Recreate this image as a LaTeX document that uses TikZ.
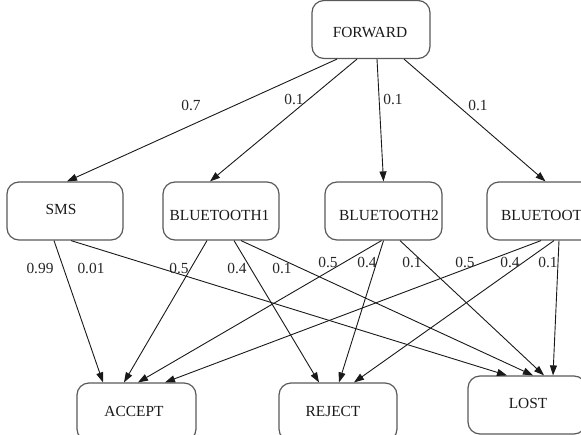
\documentclass[tikz,border=0pt]{standalone}
\usepackage{fontspec}
\setmainfont{Liberation Serif}
\usetikzlibrary{arrows.meta}
\begin{document}
\begin{tikzpicture}[x=1pt,y=-1pt,
  box/.style={draw=black!65,line width=1.2pt,rounded corners=12pt,minimum width=117pt,minimum height=58pt,inner sep=0pt},
  txt/.style={font=\fontsize{15.4}{18}\selectfont,inner sep=0pt,text=black!90},
  edge/.style={draw=black!90,line width=0.9pt,-{Triangle[length=10pt,width=7pt]}},
  lbl/.style={font=\fontsize{15.4}{18}\selectfont,inner sep=0pt,text=black!85}]
\useasboundingbox (0,0) rectangle (581,434);
\clip (0,0) rectangle (581,434);
% boxes
\node[box,minimum width=118pt] (forward) at (371,29.5) {};
\node[box,minimum width=116pt] (sms) at (65,211) {};
\node[box,minimum width=116pt] (bt1) at (221,211) {};
\node[box] (bt2) at (383.5,211) {};
\node[box] (bt3) at (545.5,211) {};
\node[box,minimum width=119pt] (accept) at (136.5,412) {};
\node[box,minimum width=118pt] (reject) at (338,412) {};
\node[box,minimum width=118pt] (lost) at (527,405) {};
% box texts
\node[txt] (tforward) at (370,33) {FORWARD};
\node[txt] (tsms) at (61,209) {SMS};
\node[txt] (tbt1) at (219.5,215) {BLUETOOTH1};
\node[txt] (tbt2) at (389,215) {BLUETOOTH2};
\node[txt] (tbt3) at (551,215) {BLUETOOTH3};
\node[txt] (taccept) at (134,411) {ACCEPT};
\node[txt] (treject) at (333,411) {REJECT};
\node[txt] (tlost) at (528,403) {LOST};
% edges from forward
\draw[edge] ([xshift=-34pt]forward.south) -- ([xshift=2pt]sms.north);
\draw[edge] ([xshift=-14pt]forward.south) -- ([xshift=-11pt]bt1.north);
\draw[edge] ([xshift=6pt]forward.south) -- ([xshift=0pt]bt2.north);
\draw[edge] ([xshift=33pt]forward.south) -- ([xshift=0pt]bt3.north);
% edges from sms
\draw[edge] ([xshift=-11pt]sms.south) -- ([xshift=-33.5pt]accept.north);
\draw[edge] ([xshift=6pt]sms.south) -- ([xshift=-20pt]lost.north);
% edges from bt1
\draw[edge] ([xshift=-14pt]bt1.south) -- ([xshift=-12.5pt]accept.north);
\draw[edge] ([xshift=13pt]bt1.south) -- ([xshift=-19pt]reject.north);
\draw[edge] ([xshift=20pt]bt1.south) -- ([xshift=6pt]lost.north);
% edges from bt2
\draw[edge] ([xshift=-2pt]bt2.south) -- ([xshift=1.5pt]accept.north);
\draw[edge] ([xshift=0pt]bt2.south) -- ([xshift=1pt]reject.north);
\draw[edge] ([xshift=16.5pt]bt2.south) -- ([xshift=17pt]lost.north);
% edges from bt3
\draw[edge] ([xshift=-4.5pt]bt3.south) -- ([xshift=28.5pt]accept.north);
\draw[edge] ([xshift=8.5pt]bt3.south) -- ([xshift=16pt]reject.north);
\draw[edge] ([xshift=13.5pt]bt3.south) -- ([xshift=26pt]lost.north);
% labels
\node[lbl] (l1) at (191,105) {0.7};
\node[lbl] (l2) at (294,99) {0.1};
\node[lbl] (l3) at (393,99) {0.1};
\node[lbl] (l4) at (478,105) {0.1};
\node[lbl] (l5) at (40,268) {0.99};
\node[lbl] (l6) at (91,268) {0.01};
\node[lbl] (l7) at (179,268) {0.5};
\node[lbl] (l8) at (237,268) {0.4};
\node[lbl] (l9) at (282,268) {0.1};
\node[lbl] (l10) at (328,262) {0.5};
\node[lbl] (l11) at (367,262) {0.4};
\node[lbl] (l12) at (412,262) {0.1};
\node[lbl] (l13) at (465,262) {0.5};
\node[lbl] (l14) at (510,262) {0.4};
\node[lbl] (l15) at (548,262) {0.1};
\end{tikzpicture}
\end{document}
